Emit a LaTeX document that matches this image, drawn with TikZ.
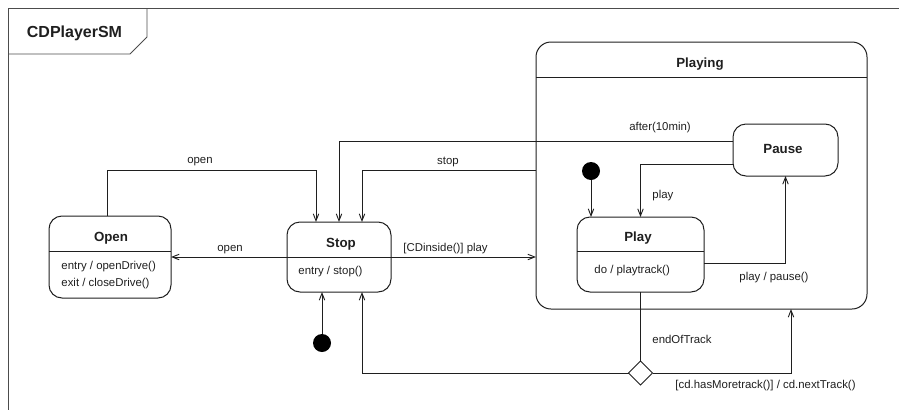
\documentclass[tikz,border=0pt]{standalone}
\usepackage{fontspec}
\setmainfont{Liberation Sans}
\usetikzlibrary{arrows.meta,shapes.geometric,calc}
\begin{document}
\begin{tikzpicture}[x=1pt,y=-1pt,
  line width=0.9pt, color=black!88,
  statebox/.style={draw, rounded corners=13pt, inner sep=0pt, outer sep=0pt, line width=1pt},
  ttl/.style={font=\fontsize{13.3}{15}\selectfont\bfseries, anchor=base, inner sep=0pt},
  txt/.style={font=\fontsize{11.4}{13}\selectfont, anchor=base west, inner sep=0pt},
  lbl/.style={font=\fontsize{11.4}{13}\selectfont, anchor=base west, inner sep=0pt},
  arr/.style={-{Straight Barb[length=7pt,width=5.5pt]}, line width=0.9pt},
  initdot/.style={circle, fill=black, minimum size=18pt, inner sep=0pt, outer sep=0pt},
  choice/.style={diamond, draw, fill=white, minimum width=24pt, minimum height=24pt, inner sep=0pt, outer sep=0pt, aspect=1, line width=1pt}
]
\useasboundingbox (0,0) rectangle (899,410);
% frame
\draw[black!70] (899,8) -- (8,8) -- (8,410);
\draw[black!70] (147,8) -- (147,37) -- (130,54) -- (8,54);
\node[font=\fontsize{16}{18}\selectfont\bfseries, anchor=base, inner sep=0pt] (smT) at (74.5,37.5) {CDPlayerSM};

% states
\node[statebox, minimum width=122pt, minimum height=82pt] (open) at (110,257) {};
\node[statebox, minimum width=104pt, minimum height=70pt] (stop) at (339,257) {};
\node[statebox, rounded corners=15pt, minimum width=331pt, minimum height=267pt] (playing) at (701.5,175.5) {};
\node[statebox, minimum width=105pt, minimum height=52pt] (pause) at (785.5,150) {};
\node[statebox, minimum width=127pt, minimum height=75pt] (play) at (640.5,254.5) {};

% dividers
\draw (open.west |- 0,251) -- (open.east |- 0,251);
\draw (stop.west) -- (stop.east);
\draw (playing.west |- 0,77) -- (playing.east |- 0,77);
\draw (play.west |- 0,251) -- (play.east |- 0,251);

% texts
\node[ttl] (openT) at (111,241) {Open};
\node[txt] (openE) at (61,269) {entry / openDrive()};
\node[txt] (openX) at (61,286) {exit / closeDrive()};
\node[ttl] (stopT) at (341,247) {Stop};
\node[txt] (stopE) at (298,274) {entry / stop()};
\node[ttl] (playingT) at (700,67) {Playing};
\node[ttl] (pauseT) at (783,153) {Pause};
\node[ttl] (playT) at (638,241) {Play};
\node[txt] (playD) at (594,273) {do / playtrack()};

% pseudostates
\node[initdot] (init1) at (322,343) {};
\node[initdot] (init2) at (591,171) {};
\node[choice] (dec) at (640.5,373) {};

% transitions
\coordinate (c1) at (316,170);
\draw[arr] ([xshift=-3pt]open.north) |- (c1) -- ([xshift=-23pt]stop.north);
\node[lbl, anchor=base] (l1) at (200,163) {open};
\draw[arr] (stop.west) -- (open.east);
\node[lbl, anchor=base] (l2) at (230,251) {open};
\draw[arr] (stop.east) -- (stop.east -| playing.west);
\node[lbl] (l3) at (403,251) {[CDinside()] play};
\draw[arr] ([yshift=9pt]pause.west) -| (stop.north);
\node[lbl, anchor=base] (l4) at (660,130) {after(10min)};
\draw[arr] ([yshift=5.5pt]playing.west) -| ([xshift=23pt]stop.north);
\node[lbl, anchor=base] (l5) at (448,164) {stop};
\draw[arr] (init2) -- (init2 |- play.north);
\draw[arr] ([yshift=-14pt]pause.west) -| (play.north);
\node[lbl] (l6) at (652,198) {play};
\draw[arr] ([yshift=-8.5pt]play.east) -| (pause.south);
\node[lbl] (l7) at (739,280) {play / pause()};
\draw (play.south) -- (dec.north);
\node[lbl] (l8) at (652,343) {endOfTrack};
\draw[arr] (dec.west) -| ([xshift=23pt]stop.south);
\draw[arr] (dec.east) -| ([xshift=89.5pt]playing.south);
\node[lbl] (l9) at (675,388) {[cd.hasMoretrack()] / cd.nextTrack()};
\draw[arr] (init1) -- (init1 |- stop.south);
\end{tikzpicture}
\end{document}
